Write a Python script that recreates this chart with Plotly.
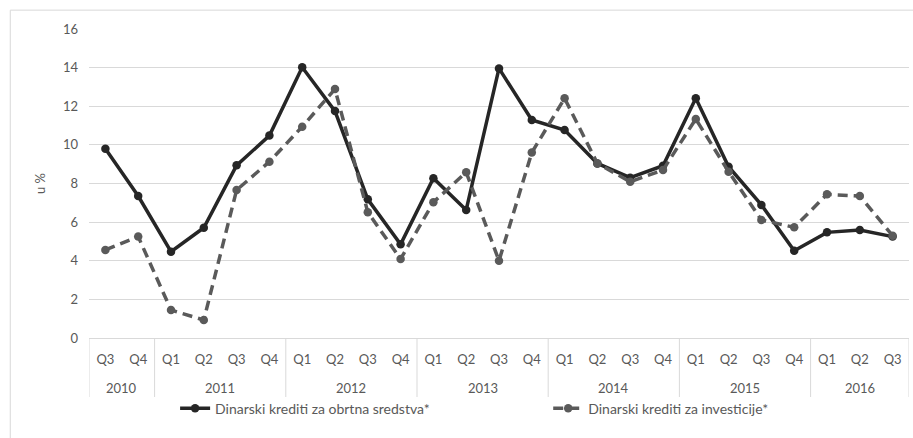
import plotly.graph_objects as go

# Quarterly periods (year, quarter)
years = ["2010", "2010",
         "2011", "2011", "2011", "2011",
         "2012", "2012", "2012", "2012",
         "2013", "2013", "2013", "2013",
         "2014", "2014", "2014", "2014",
         "2015", "2015", "2015", "2015",
         "2016", "2016", "2016"]
quarters = ["Q3", "Q4",
            "Q1", "Q2", "Q3", "Q4",
            "Q1", "Q2", "Q3", "Q4",
            "Q1", "Q2", "Q3", "Q4",
            "Q1", "Q2", "Q3", "Q4",
            "Q1", "Q2", "Q3", "Q4",
            "Q1", "Q2", "Q3"]

# Interest rates, in %
obrtna = [9.8, 7.35,
          4.47, 5.71, 8.94, 10.48,
          14.02, 11.75, 7.18, 4.85,
          8.27, 6.63, 13.96, 11.29,
          10.77, 9.04, 8.3, 8.92,
          12.41, 8.87, 6.89, 4.52,
          5.47, 5.59, 5.25]
investicije = [4.56, 5.25,
               1.45, 0.93, 7.66, 9.13,
               10.94, 12.89, 6.51, 4.09,
               7.03, 8.58, 4.0, 9.6,
               12.41, 9.04, 8.09, 8.7,
               11.34, 8.61, 6.11, 5.73,
               7.44, 7.35, 5.3]

series_names = ["Dinarski krediti za obrtna sredstva*",
                "Dinarski krediti za investicije*"]
y_ticks = [0, 2, 4, 6, 8, 10, 12, 14, 16]

FONT = "Lato"
LABEL = "#595959"
GRID = "#d9d9d9"
FS = 13

idx = list(range(len(quarters)))

fig = go.Figure()
fig.add_trace(go.Scatter(
    x=idx, y=obrtna, name=series_names[0],
    mode="lines+markers",
    line=dict(color="#262626", width=3.5),
    marker=dict(color="#262626", size=8.5),
    legend="legend",
))
fig.add_trace(go.Scatter(
    x=idx, y=investicije, name=series_names[1],
    mode="lines+markers",
    line=dict(color="#5a5a5a", width=3.5, dash="10px,6px"),
    marker=dict(color="#5a5a5a", size=8.5),
    legend="legend2",
))

# Year groups: first/last index of each year
groups = []
for i, yr in enumerate(years):
    if groups and groups[-1][0] == yr:
        groups[-1][2] = i
    else:
        groups.append([yr, i, i])

shapes = []
annotations = []
# Group dividers below the category axis
bounds = [g[1] - 0.5 for g in groups] + [groups[-1][2] + 0.5]
for b in bounds:
    shapes.append(dict(type="line", xref="x", yref="paper",
                       x0=b, x1=b, y0=0, y1=-0.191,
                       line=dict(color=GRID, width=1)))
for yr, a, b in groups:
    annotations.append(dict(x=(a + b) / 2, y=-0.162, xref="x", yref="paper",
                            text=yr, showarrow=False, yanchor="middle",
                            font=dict(family=FONT, size=FS, color=LABEL)))

# Outer chart frame (top and left edges)
shapes += [
    dict(type="line", xref="paper", yref="paper",
         x0=-0.096, x1=1.01, y0=1.061, y1=1.061,
         line=dict(color=GRID, width=1)),
    dict(type="line", xref="paper", yref="paper",
         x0=-0.096, x1=-0.096, y0=1.061, y1=-0.35,
         line=dict(color=GRID, width=1)),
]

legend_style = dict(orientation="h", xanchor="left",
                    y=-0.177, yanchor="top",
                    font=dict(family=FONT, size=14, color=LABEL),
                    bgcolor="rgba(0,0,0,0)")

fig.update_layout(
    width=913, height=438,
    margin=dict(l=89, r=4, t=29, b=100),
    paper_bgcolor="white", plot_bgcolor="white",
    font=dict(family=FONT, size=FS, color=LABEL),
    showlegend=True,
    legend=dict(x=0.105, **legend_style),
    legend2=dict(x=0.56, **legend_style),
    xaxis=dict(
        range=[-0.5, len(quarters) - 0.5],
        tickmode="array", tickvals=idx, ticktext=quarters,
        showgrid=False, zeroline=False,
        showline=True, linecolor=GRID, linewidth=1,
        ticks="", ticklabelstandoff=9,
        tickfont=dict(family=FONT, size=FS, color=LABEL),
    ),
    yaxis=dict(
        range=[0, 16], tickvals=y_ticks,
        showgrid=True, gridcolor=GRID, gridwidth=1,
        zeroline=False, showline=False, ticks="",
        ticklabelstandoff=10,
        tickfont=dict(family=FONT, size=FS, color=LABEL),
        title=dict(text="u %", font=dict(family=FONT, size=FS, color=LABEL),
                   standoff=14),
    ),
    shapes=shapes,
    annotations=annotations,
)

fig.write_html("out.html")
